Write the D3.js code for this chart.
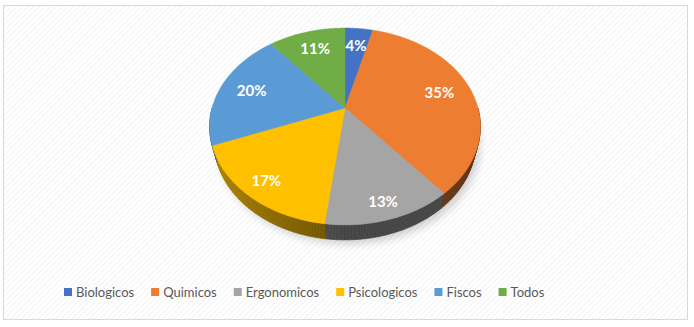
<!DOCTYPE html>
<html>
<head>
<meta charset="utf-8">
<script src="https://cdn.jsdelivr.net/npm/d3@7"></script>
<style>
  body { margin: 0; background: #fff; }
  svg { display: block; }
</style>
</head>
<body>
<svg id="chart" width="694" height="327"></svg>
<script>
"use strict";

// data
var categories = ["Biologicos", "Quimicos", "Ergonomicos", "Psicologicos", "Fiscos", "Todos"];
var shares = [4, 35, 13, 17, 20, 11];
var colors = ["#4472C4", "#ED7D31", "#A5A5A5", "#FFC000", "#5B9BD5", "#70AD47"];

var svg = d3.select("#chart");

// background hatch + frame
var defs = svg.append("defs");
var pat = defs.append("pattern")
  .attr("id", "hatch")
  .attr("patternUnits", "userSpaceOnUse")
  .attr("width", 4).attr("height", 4)
  .attr("patternTransform", "rotate(45)");
pat.append("rect").attr("width", 4).attr("height", 4).attr("fill", "#fff");
pat.append("line").attr("x1", 0).attr("y1", 0).attr("x2", 0).attr("y2", 4)
  .attr("stroke", "#f0f0f0").attr("stroke-width", 1.5);

defs.append("filter").attr("id", "blur")
  .attr("x", "-20%").attr("y", "-20%").attr("width", "140%").attr("height", "140%")
  .append("feGaussianBlur").attr("stdDeviation", 4);

svg.append("rect")
  .attr("x", 3.5).attr("y", 5.5)
  .attr("width", 684).attr("height", 314)
  .attr("fill", "url(#hatch)")
  .attr("stroke", "#d9d9d9");

// perspective projection of the pie disk
var cx = 345, cy = 108;
var focal = 496, dist = 3.73;
var sinA = 0.714, cosA = 0.700;
var thick = 0.18;

function project(a, r, h) {
  var x = r * Math.sin(a);
  var z = -r * Math.cos(a);
  var depth = dist - h * sinA - z * cosA;
  var up = h * cosA - z * sinA;
  return [cx + focal * x / depth, cy - focal * up / depth];
}

var pie = d3.pie().sort(null).value(function(d) { return d; });
var arcs = pie(shares);
var step = Math.PI / 180;

function shade(c, f) {
  var col = d3.rgb(c);
  return d3.rgb(col.r * f, col.g * f, col.b * f).formatHex();
}

// soft shadow under the disk
var shadowPts = d3.range(0, 361, 4).map(function(deg) {
  var p = project(deg * step, 1.0, -thick);
  return [p[0] + 4, p[1] + 4];
});
svg.append("path")
  .attr("d", d3.line()(shadowPts) + "Z")
  .attr("fill", "#000")
  .attr("opacity", 0.18)
  .attr("filter", "url(#blur)");

// side walls (only the part facing the viewer)
var sides = svg.append("g");
arcs.forEach(function(d, i) {
  var a0 = Math.max(d.startAngle, Math.PI / 2);
  var a1 = Math.min(d.endAngle, 3 * Math.PI / 2);
  for (var a = a0; a < a1; a += step) {
    var b = Math.min(a + step, a1);
    var f = 0.42 + 0.28 * Math.max(0, -Math.sin((a + b) / 2));
    var fill = shade(colors[i], f);
    var pts = [project(a, 1, 0), project(b, 1, 0), project(b, 1, -thick), project(a, 1, -thick)];
    sides.append("path")
      .attr("d", d3.line()(pts) + "Z")
      .attr("fill", fill)
      .attr("stroke", fill)
      .attr("stroke-width", 0.6);
  }
});

// top faces
var tops = svg.append("g");
arcs.forEach(function(d, i) {
  var pts = [project(0, 0, 0)];
  var n = Math.max(2, Math.ceil((d.endAngle - d.startAngle) / step));
  for (var k = 0; k <= n; k++) {
    var a = d.startAngle + (d.endAngle - d.startAngle) * k / n;
    pts.push(project(a, 1, 0));
  }
  tops.append("path")
    .attr("d", d3.line()(pts) + "Z")
    .attr("fill", colors[i])
    .attr("stroke", colors[i])
    .attr("stroke-width", 0.5);
});

// percentage labels
svg.append("g").selectAll("text")
  .data(arcs)
  .enter()
  .append("text")
    .attr("transform", function(d) {
      var mid = (d.startAngle + d.endAngle) / 2;
      var r = 0.75 + 0.12 * Math.max(0, -Math.cos(mid));
      var p = project(mid, r, 0);
      return "translate(" + p[0] + "," + p[1] + ")";
    })
    .attr("text-anchor", "middle")
    .attr("dy", "0.36em")
    .attr("fill", "#fff")
    .style("font-family", "Lato, 'Open Sans', sans-serif")
    .style("font-weight", "bold")
    .style("font-size", "15px")
    .text(function(d) { return d.data + "%"; });

// legend
var legend = svg.append("g").attr("transform", "translate(64,292)");
var xPos = 0;
categories.forEach(function(name, i) {
  var item = legend.append("g").attr("transform", "translate(" + xPos + ",0)");
  item.append("rect")
    .attr("x", 0).attr("y", -4)
    .attr("width", 8).attr("height", 8)
    .attr("fill", colors[i]);
  var label = item.append("text")
    .attr("x", 12)
    .attr("dy", "0.35em")
    .attr("fill", "#595959")
    .style("font-family", "Lato, 'Open Sans', sans-serif")
    .style("font-size", "13px")
    .text(name);
  xPos += 12 + label.node().getComputedTextLength() + 17;
});
</script>
</body>
</html>
